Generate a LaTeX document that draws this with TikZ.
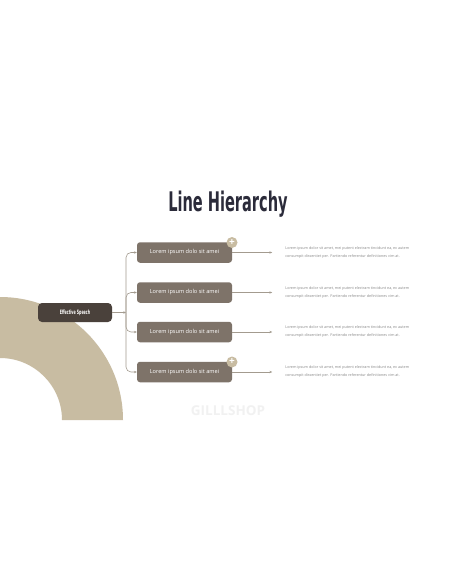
\documentclass[tikz,border=0pt]{standalone}
\usepackage{fontspec}
\setmainfont{Open Sans}
\newfontfamily\headfont[FakeStretch=0.6]{DejaVu Sans Condensed}
\usepackage{xcolor}
\usetikzlibrary{arrows.meta, positioning, calc}

\definecolor{ink}{HTML}{2B2B3A}
\definecolor{rootbrown}{HTML}{4A413B}
\definecolor{boxbrown}{HTML}{7E7369}
\definecolor{sand}{HTML}{C8BCA2}
\definecolor{wire}{HTML}{A39B8F}
\definecolor{note}{HTML}{8A8A8A}
\definecolor{ghost}{HTML}{F1F1F1}

\begin{document}
\begin{tikzpicture}[
    x=1pt, y=-1pt,
    rootbox/.style={fill=rootbrown, rounded corners=4pt, minimum width=74pt, minimum height=19pt, inner sep=0pt, text=white, font=\headfont\bfseries\fontsize{6}{7}\selectfont},
    item/.style={fill=boxbrown, rounded corners=3pt, minimum width=95pt, minimum height=20.5pt, inner sep=0pt, text=white, font=\fontsize{5.6}{7}\selectfont},
    plus/.style={circle, fill=sand, minimum size=11pt, inner sep=0pt, text=white, font=\bfseries\fontsize{10}{10}\selectfont},
    desc/.style={anchor=west, align=left, text=note, inner sep=0pt, font=\fontsize{3.7}{8}\selectfont},
    link/.style={draw=wire, line width=0.6pt, rounded corners=5pt},
    arrow/.style={-{Stealth[length=2.8pt, width=2.4pt]}, draw=wire, line width=0.6pt}
]
    \useasboundingbox[fill=white] (0,0) rectangle (456,586);

    % Background ring
    \fill[sand] (0,297) arc[start angle=-90, end angle=0, radius=123] -- (62,420)
        arc[start angle=0, end angle=-90, radius=62] -- cycle;

    % Title
    \node[text=ink, font=\headfont\bfseries\fontsize{27}{30}\selectfont] (title) at (228,204) {Line Hierarchy};

    % Root
    \node[rootbox] (root) at (75,312.5) {Effective Speech};
    \coordinate (bus) at (126,312.5);
    \draw[arrow] (root) -- (bus);

    % Items
    \node[item] (b1) at (184.5,252.5) {Lorem ipsum dolo sit amei};
    \node[item] (b2) at (184.5,292.5) {Lorem ipsum dolo sit amei};
    \node[item] (b3) at (184.5,332) {Lorem ipsum dolo sit amei};
    \node[item] (b4) at (184.5,372) {Lorem ipsum dolo sit amei};

    \node[plus] (p1) at (232,242.5) {+};
    \node[plus] (p4) at (232,362) {+};

    % Branches
    \foreach \i in {1,...,4} {
        \draw[link, arrow] (bus) |- (b\i.west);
        \coordinate (e\i) at ($(b\i.east)+(40,0)$);
        \draw[arrow] (b\i.east) -- (e\i);
        \node[desc] (d\i) at ($(e\i)+(13,0)$) {Lorem ipsum dolor sit amet, mei putent electram tincidunt ea, ex autem\\consumpit dissentiet per. Partiendo referentur definitiones vim at.};
    }

    % Watermark
    \node[text=ghost, font=\bfseries\fontsize{13.5}{14}\selectfont] (mark) at (228,411) {GILLLSHOP};
\end{tikzpicture}
\end{document}
